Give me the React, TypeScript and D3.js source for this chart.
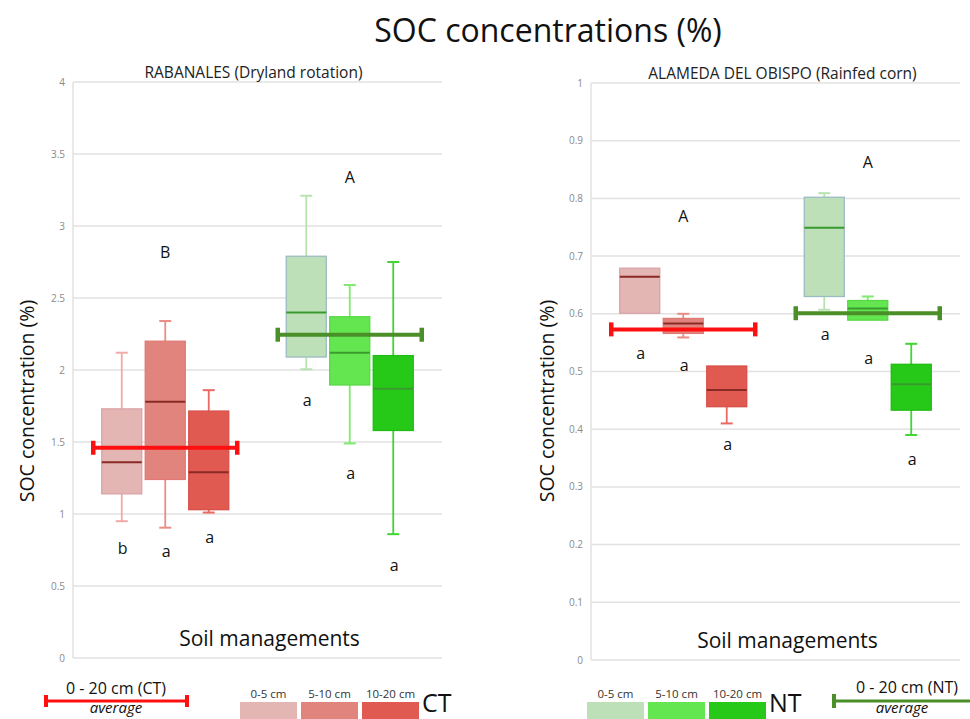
import React from "react";
import * as d3 from "d3";

// Depth layers and management systems
const depths = ["0-5 cm", "5-10 cm", "10-20 cm"];
const managements = ["CT", "NT"];

// Box statistics per depth: [whisker low, Q1, median, Q3, whisker high]
const rabanalesCT = [
  [0.95, 1.14, 1.36, 1.73, 2.12],
  [0.905, 1.24, 1.78, 2.2, 2.34],
  [1.01, 1.03, 1.29, 1.715, 1.86],
];
const rabanalesNT = [
  [2.005, 2.09, 2.4, 2.79, 3.21],
  [1.49, 1.896, 2.12, 2.37, 2.59],
  [0.86, 1.58, 1.87, 2.1, 2.75],
];
const alamedaCT = [
  [0.601, 0.601, 0.664, 0.679, 0.679],
  [0.559, 0.566, 0.583, 0.592, 0.6],
  [0.41, 0.439, 0.468, 0.5095, 0.5095],
];
const alamedaNT = [
  [0.607, 0.63, 0.749, 0.802, 0.809],
  [0.589, 0.589, 0.609, 0.623, 0.63],
  [0.39, 0.433, 0.478, 0.5125, 0.548],
];

// 0-20 cm averages [CT, NT]
const rabanalesAvg = [1.46, 2.245];
const alamedaAvg = [0.573, 0.601];

// Significance letters: management-level letter and depth-level letters
const rabanalesGroupLetters = ["B", "A"];
const rabanalesGroupLetterY = [2.82, 3.34];
const rabanalesDepthLetters = [["b", "a", "a"], ["a", "a", "a"]];
const rabanalesDepthLetterY = [[0.76, 0.74, 0.84], [1.79, 1.28, 0.64]];

const alamedaGroupLetters = ["A", "A"];
const alamedaGroupLetterY = [0.768, 0.863];
const alamedaDepthLetters = [["a", "a", "a"], ["a", "a", "a"]];
const alamedaDepthLetterY = [[0.532, 0.511, 0.374], [0.565, 0.522, 0.348]];

// Axis ticks
const rabanalesTicks = [0, 0.5, 1, 1.5, 2, 2.5, 3, 3.5, 4];
const alamedaTicks = [0, 0.1, 0.2, 0.3, 0.4, 0.5, 0.6, 0.7, 0.8, 0.9, 1];

// Colours
const fills = {
  CT: ["#e3b6b4", "#e2847e", "#e15a52"],
  NT: ["#bde0b8", "#63e64f", "#26c918"],
};
const strokes = {
  CT: ["#d9a3a6", "#e07a74", "#d95049"],
  NT: ["#9bbbc4", "#58d846", "#20bb14"],
};
const whiskerColors = {
  CT: ["#f0aaa8", "#ea8c86", "#e96a63"],
  NT: ["#b8e2b0", "#7eea6e", "#3fd632"],
};
const medianColors = { CT: "#8a2a24", NT: "#3a9a2e" };
const avgColors = { CT: "#ff1010", NT: "#4a8f28" };

const FONT = "'Open Sans', 'DejaVu Sans', sans-serif";

type PanelProps = {
  x0: number;
  x1: number;
  yTop: number;
  yBottom: number;
  maxV: number;
  ticks: number[];
  ct: number[][];
  nt: number[][];
  avg: number[];
  title: string;
  titleSize: number;
  titleDx: number;
  groupLetters: string[];
  groupLetterY: number[];
  depthLetters: string[][];
  depthLetterY: number[][];
  axisLabelX: number;
};

function Panel(p: PanelProps) {
  const y = d3.scaleLinear().domain([0, p.maxV]).range([p.yBottom, p.yTop]);
  const xGroup = d3.scaleBand<string>().domain(managements).range([p.x0, p.x1]);
  const groupWidth = 127;
  const inner = d3
    .scaleBand<string>()
    .domain(depths)
    .range([0, groupWidth])
    .paddingInner(0.08);
  const cx = (g: string) => (xGroup(g) as number) + xGroup.bandwidth() / 2;
  const boxX = (g: string, d: string) => cx(g) - groupWidth / 2 + (inner(d) as number);
  const bw = inner.bandwidth();
  const fmt = (v: number) => d3.format("~g")(v);
  const sets: Record<string, number[][]> = { CT: p.ct, NT: p.nt };
  const midX = (p.x0 + p.x1) / 2;

  return (
    <g>
      {/* gridlines */}
      {p.ticks.map((t) => (
        <line key={t} x1={p.x0} x2={p.x1} y1={y(t)} y2={y(t)} stroke="#e2e2e2" strokeWidth={1.5} />
      ))}
      <line x1={p.x0} x2={p.x0} y1={y(0)} y2={y(p.maxV)} stroke="#e2e2e2" strokeWidth={1.5} />
      {p.ticks.map((t) => (
        <text
          key={"l" + t}
          x={p.x0 - 8}
          y={y(t)}
          dy="0.35em"
          textAnchor="end"
          fontSize={10}
          fill="#8a8a8a"
          fontFamily={FONT}
        >
          {fmt(t)}
        </text>
      ))}
      <text
        x={midX + p.titleDx}
        y={y(p.maxV) - 4}
        textAnchor="middle"
        fontSize={p.titleSize}
        fill="#222"
        fontFamily={FONT}
      >
        {p.title}
      </text>
      <text
        transform={`translate(${p.axisLabelX},401) rotate(-90)`}
        textAnchor="middle"
        fontSize={19.5}
        fill="#111"
        fontFamily={FONT}
      >
        SOC concentration (%)
      </text>
      <text x={midX + 12} y={p.yBottom - 12} textAnchor="middle" fontSize={21} fill="#111" fontFamily={FONT}>
        Soil managements
      </text>

      {/* boxes */}
      {managements.map((g) =>
        depths.map((d, i) => {
          const s = sets[g][i];
          const bx = boxX(g, d);
          const mx = bx + bw / 2;
          const key = g + d;
          const wc = (whiskerColors as any)[g][i];
          return (
            <g key={key}>
              {s[4] > s[3] && (
                <>
                  <line x1={mx} x2={mx} y1={y(s[3])} y2={y(s[4])} stroke={wc} strokeWidth={1.8} />
                  <line x1={mx - 6} x2={mx + 6} y1={y(s[4])} y2={y(s[4])} stroke={wc} strokeWidth={2} />
                </>
              )}
              {s[0] < s[1] && (
                <>
                  <line x1={mx} x2={mx} y1={y(s[1])} y2={y(s[0])} stroke={wc} strokeWidth={1.8} />
                  <line x1={mx - 6} x2={mx + 6} y1={y(s[0])} y2={y(s[0])} stroke={wc} strokeWidth={2} />
                </>
              )}
              <rect
                x={bx}
                y={y(s[3])}
                width={bw}
                height={y(s[1]) - y(s[3])}
                fill={(fills as any)[g][i]}
                stroke={(strokes as any)[g][i]}
                strokeWidth={1.3}
              />
              <line
                x1={bx}
                x2={bx + bw}
                y1={y(s[2])}
                y2={y(s[2])}
                stroke={(medianColors as any)[g]}
                strokeWidth={2}
              />
            </g>
          );
        })
      )}

      {/* averages */}
      {managements.map((g, gi) => {
        const c = (avgColors as any)[g];
        const yy = y(p.avg[gi]);
        const a = cx(g) - 72;
        const b = cx(g) + 72;
        return (
          <g key={"avg" + g}>
            <line x1={a} x2={b} y1={yy} y2={yy} stroke={c} strokeWidth={4} />
            <line x1={a} x2={a} y1={yy - 7} y2={yy + 7} stroke={c} strokeWidth={4.5} />
            <line x1={b} x2={b} y1={yy - 7} y2={yy + 7} stroke={c} strokeWidth={4.5} />
          </g>
        );
      })}

      {/* letters */}
      {managements.map((g, gi) => (
        <text
          key={"gl" + g}
          x={cx(g)}
          y={y(p.groupLetterY[gi])}
          dy="0.35em"
          textAnchor="middle"
          fontSize={16}
          fill="#111"
          fontFamily={FONT}
        >
          {p.groupLetters[gi]}
        </text>
      ))}
      {managements.map((g, gi) =>
        depths.map((d, i) => (
          <text
            key={"dl" + g + d}
            x={boxX(g, d) + bw / 2 + 1}
            y={y(p.depthLetterY[gi][i])}
            dy="0.35em"
            textAnchor="middle"
            fontSize={16}
            fill="#111"
            fontFamily={FONT}
          >
            {p.depthLetters[gi][i]}
          </text>
        ))
      )}
    </g>
  );
}

function Legend() {
  const swatchW = 57;
  const gap = 4;
  const swatchX = (start: number) =>
    d3
      .scaleBand<string>()
      .domain(depths)
      .range([start, start + 3 * swatchW + 2 * gap])
      .paddingInner(gap / (swatchW + gap));
  const ctX = swatchX(240);
  const ntX = swatchX(587);
  return (
    <g fontFamily={FONT}>
      {/* CT average key */}
      <line x1={45} x2={188} y1={701} y2={701} stroke={avgColors.CT} strokeWidth={3} />
      <line x1={46} x2={46} y1={695} y2={707} stroke={avgColors.CT} strokeWidth={4} />
      <line x1={187} x2={187} y1={695} y2={707} stroke={avgColors.CT} strokeWidth={4} />
      <text x={116} y={694} textAnchor="middle" fontSize={16} fill="#111">
        0 - 20 cm (CT)
      </text>
      <text x={116} y={713} textAnchor="middle" fontSize={15} fontStyle="italic" fill="#111">
        average
      </text>

      {/* CT depth swatches */}
      {depths.map((d, i) => (
        <g key={"ct" + d}>
          <text x={(ctX(d) as number) + swatchW / 2} y={698} textAnchor="middle" fontSize={11.5} fill="#333">
            {d}
          </text>
          <rect x={ctX(d) as number} y={702} width={ctX.bandwidth()} height={20} fill={fills.CT[i]} />
        </g>
      ))}
      <text x={422} y={712} fontSize={25} fill="#111">
        CT
      </text>

      {/* NT depth swatches */}
      {depths.map((d, i) => (
        <g key={"nt" + d}>
          <text x={(ntX(d) as number) + swatchW / 2} y={698} textAnchor="middle" fontSize={11.5} fill="#333">
            {d}
          </text>
          <rect x={ntX(d) as number} y={702} width={ntX.bandwidth()} height={20} fill={fills.NT[i]} />
        </g>
      ))}
      <text x={769} y={712} fontSize={25} fill="#111">
        NT
      </text>

      {/* NT average key */}
      <line x1={833} x2={972} y1={701} y2={701} stroke={avgColors.NT} strokeWidth={3} />
      <line x1={834} x2={834} y1={694} y2={708} stroke={avgColors.NT} strokeWidth={4} />
      <text x={907} y={693} textAnchor="middle" fontSize={16} fill="#111">
        0 - 20 cm (NT)
      </text>
      <text x={902} y={713} textAnchor="middle" fontSize={15} fontStyle="italic" fill="#111">
        average
      </text>
    </g>
  );
}

export default function App() {
  return (
    <svg
      width={970}
      height={719}
      style={{ position: "absolute", left: 0, top: 0, background: "#fff" }}
    >
      <rect width={970} height={719} fill="#fff" />
      <text x={548} y={42} textAnchor="middle" fontSize={32} fill="#111" fontFamily={FONT}>
        SOC concentrations (%)
      </text>
      <Panel
        x0={73}
        x1={442}
        yTop={82}
        yBottom={658}
        maxV={4}
        ticks={rabanalesTicks}
        ct={rabanalesCT}
        nt={rabanalesNT}
        avg={rabanalesAvg}
        title="RABANALES (Dryland rotation)"
        titleSize={15.5}
        titleDx={-4}
        groupLetters={rabanalesGroupLetters}
        groupLetterY={rabanalesGroupLetterY}
        depthLetters={rabanalesDepthLetters}
        depthLetterY={rabanalesDepthLetterY}
        axisLabelX={34}
      />
      <Panel
        x0={591}
        x1={960}
        yTop={83}
        yBottom={660}
        maxV={1}
        ticks={alamedaTicks}
        ct={alamedaCT}
        nt={alamedaNT}
        avg={alamedaAvg}
        title="ALAMEDA DEL OBISPO (Rainfed corn)"
        titleSize={15.5}
        titleDx={7}
        groupLetters={alamedaGroupLetters}
        groupLetterY={alamedaGroupLetterY}
        depthLetters={alamedaDepthLetters}
        depthLetterY={alamedaDepthLetterY}
        axisLabelX={554}
      />
      <Legend />
    </svg>
  );
}
